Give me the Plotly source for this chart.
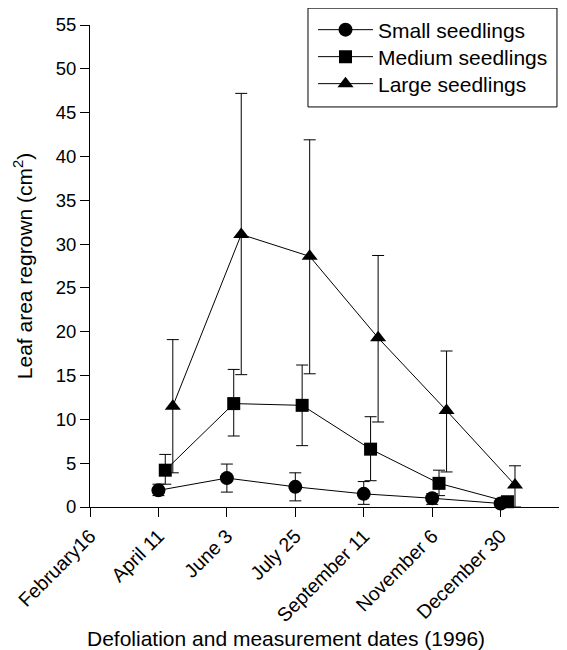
import plotly.graph_objects as go

dates = ["February16", "April 11", "June 3", "July 25", "September 11", "November 6", "December 30"]
measured_idx = [1, 2, 3, 4, 5, 6]

small = [1.9, 3.3, 2.3, 1.5, 1.0, 0.4]
small_up = [0.7, 1.6, 1.6, 1.4, 0.5, 0.3]
small_dn = [0.6, 1.6, 1.6, 1.2, 0.7, 0.3]

medium = [4.2, 11.8, 11.6, 6.6, 2.7, 0.6]
medium_up = [1.8, 3.9, 4.6, 3.7, 1.5, 0.4]
medium_dn = [1.6, 3.7, 4.6, 3.6, 1.4, 0.4]

large = [11.5, 31.1, 28.6, 19.3, 11.0, 2.5]
large_up = [7.6, 16.1, 13.3, 9.4, 6.8, 2.2]
large_dn = [7.6, 16.0, 13.4, 9.6, 7.0, 2.5]

names = ["Small seedlings", "Medium seedlings", "Large seedlings"]
symbols = ["circle", "square", "triangle-up"]
sizes = [14, 13, 14]
offsets = [0.0, 0.1, 0.21]
legend_ids = ["legend", "legend2", "legend3"]
legend_ys = [0.9896, 0.9336, 0.8776]

x_title = "Defoliation and measurement dates (1996)"
y_title = "Leaf area regrown (cm<sup>2</sup>)"

fig = go.Figure()
for name, vals, up, dn, sym, sz, off, lg in zip(
        names, [small, medium, large], [small_up, medium_up, large_up],
        [small_dn, medium_dn, large_dn], symbols, sizes, offsets, legend_ids):
    fig.add_trace(go.Scatter(
        x=[i + off for i in measured_idx], y=vals, name=name,
        mode="lines+markers",
        line=dict(color="black", width=1),
        marker=dict(symbol=sym, size=sz, color="black"),
        error_y=dict(type="data", symmetric=False, array=up, arrayminus=dn,
                     color="black", thickness=1, width=6),
        cliponaxis=False, legend=lg,
    ))

# legend frame
fig.add_shape(type="rect", xref="paper", yref="paper",
              x0=0.457, x1=0.979, y0=0.830, y1=1.035,
              line=dict(color="black", width=1), fillcolor="rgba(0,0,0,0)")

# x-axis title as annotation (sits beside the rotated tick labels)
fig.add_annotation(text=x_title, xref="paper", yref="paper", x=0.411, y=-0.2718,
                   xanchor="center", yanchor="middle", showarrow=False,
                   font=dict(size=21))

legend_style = dict(x=0.4675, xanchor="left", yanchor="middle", borderwidth=0,
                    bgcolor="rgba(0,0,0,0)", itemwidth=55, font=dict(size=21))

fig.update_layout(
    width=559, height=642,
    margin=dict(l=82, r=0, t=17, b=143),
    paper_bgcolor="white", plot_bgcolor="white",
    font=dict(family="Liberation Sans, Arial, sans-serif", size=18, color="black"),
    showlegend=True,
    legend=dict(y=legend_ys[0], **legend_style),
    legend2=dict(y=legend_ys[1], **legend_style),
    legend3=dict(y=legend_ys[2], **legend_style),
    xaxis=dict(range=[0, 6.97], tickmode="array", tickvals=list(range(len(dates))),
               ticktext=dates, tickangle=-45, ticks="outside", ticklen=9,
               tickcolor="black", showline=True, linecolor="black", linewidth=1,
               showgrid=False, zeroline=False, tickfont=dict(size=19.5),
               automargin=False),
    yaxis=dict(range=[0, 55], tickmode="array", tickvals=list(range(0, 56, 5)),
               ticks="outside", ticklen=9, tickcolor="black",
               showline=True, linecolor="black", linewidth=1,
               showgrid=False, zeroline=False, tickfont=dict(size=18.5),
               automargin=False,
               title=dict(text=y_title, font=dict(size=21), standoff=17)),
)

fig.write_html("out.html")
